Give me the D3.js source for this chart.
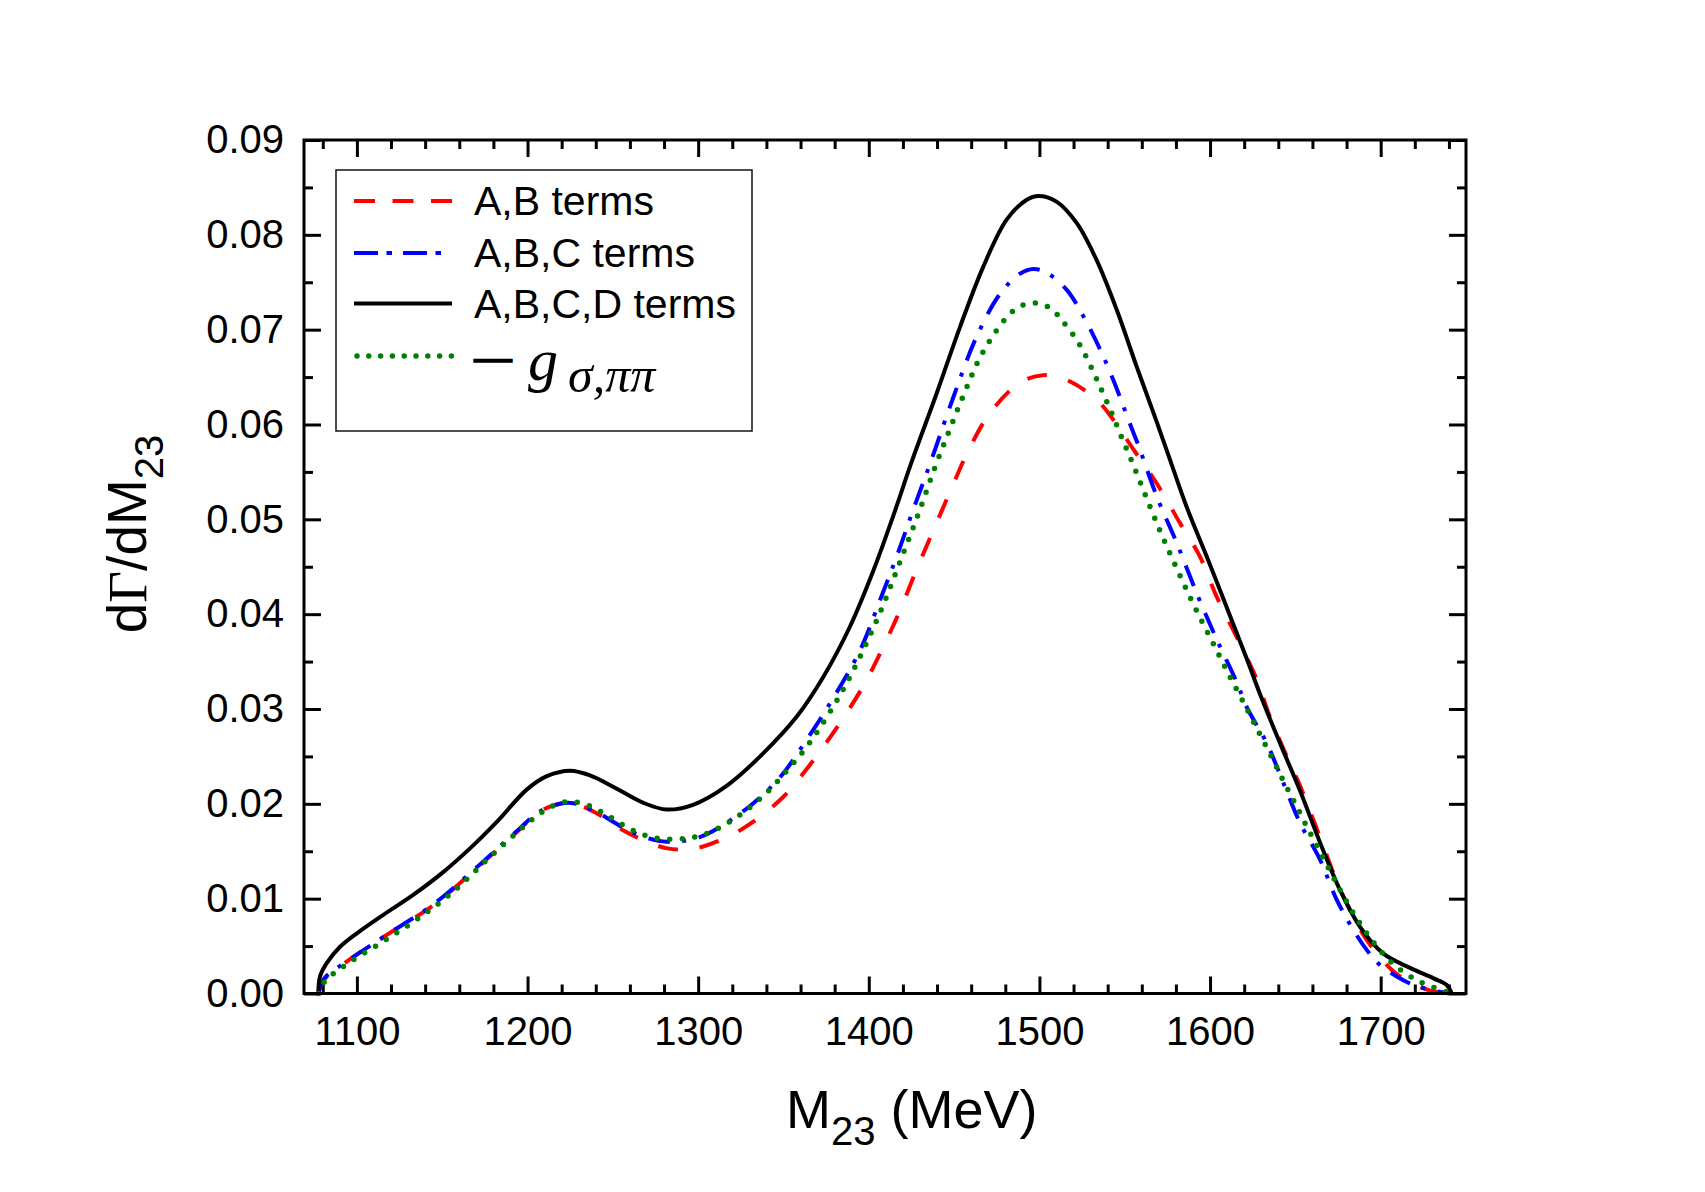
<!DOCTYPE html>
<html>
<head>
<meta charset="utf-8">
<script src="https://cdn.jsdelivr.net/npm/d3@7"></script>
<style>
  html, body { margin: 0; padding: 0; background: #fff; }
  svg { display: block; }
</style>
</head>
<body>
<svg id="chart" width="1705" height="1192"></svg>
<script>
// ---------------- DATA ----------------
const xTicks = [1100, 1200, 1300, 1400, 1500, 1600, 1700];
const yTicks = [0, 0.01, 0.02, 0.03, 0.04, 0.05, 0.06, 0.07, 0.08, 0.09];
const seriesNames = ["A,B terms", "A,B,C terms", "A,B,C,D terms"];

// A,B terms (red dashed)
const mAB = [1077.4,1081,1095,1119.4,1144.8,1170.2,1191.7,1209.3,1225,1238.6,1257,1270,1282,1293,1303,1324.5,1348,1365,1383,1397,1408.6,1418.3,1428,1438,1447.6,1458,1471,1488.6,1502.3,1516,1533.6,1543.3,1555,1568.7,1582.4,1594,1604,1615.6,1627.4,1635,1645,1653,1665,1676,1692,1709,1719,1729,1741];
const vAB = [0,0.0015,0.0035,0.0064,0.0093,0.0132,0.0167,0.0194,0.0201,0.0192,0.0171,0.0160,0.0153,0.0152,0.0155,0.0172,0.0204,0.0240,0.0285,0.0325,0.0366,0.0404,0.0447,0.0489,0.0529,0.0571,0.0612,0.0644,0.0652,0.0647,0.0626,0.0605,0.0574,0.0538,0.0496,0.0461,0.0418,0.0376,0.0331,0.0292,0.0250,0.0218,0.0162,0.0111,0.0056,0.0021,0.0011,0.0003,0];

// A,B,C terms (blue dash-dot)
const mABC = [1077.4,1081,1095,1119.4,1144.8,1170.2,1191.7,1209.3,1225,1238.6,1257,1270,1281.6,1301,1328.5,1348,1360,1377.3,1394.9,1406.6,1416.4,1426,1436,1449.6,1463.3,1477,1488.6,1496.5,1504.3,1516,1525.8,1535.6,1543.3,1553,1558,1568.8,1580.5,1592.2,1604,1615.7,1621.5,1633.2,1643,1652.7,1664.5,1674.2,1684,1691.8,1699.6,1709.4,1719.2,1729,1740];
const vABC = [0,0.0016,0.0035,0.0064,0.0094,0.0133,0.0168,0.0194,0.0201,0.0193,0.0174,0.0164,0.0160,0.0165,0.0195,0.0228,0.0258,0.0306,0.0362,0.0415,0.0461,0.0510,0.0559,0.0629,0.0693,0.0738,0.0759,0.0764,0.0760,0.0742,0.0714,0.0679,0.0647,0.0601,0.0578,0.0524,0.0475,0.0422,0.0373,0.0328,0.0302,0.0264,0.0222,0.0180,0.0141,0.0099,0.0067,0.0046,0.0030,0.0018,0.0009,0.0004,0];

// A,B,C,D terms (black solid)
const mABCD = [1077.4,1078.4,1082.3,1090,1100,1115.5,1133,1150.6,1166.3,1182,1199.5,1211,1225,1236.6,1252.3,1268,1281.6,1297,1316.7,1336.3,1357.8,1373.4,1389,1402.7,1414.4,1425,1439.8,1453.5,1467,1480.8,1492.6,1499.4,1510,1522,1533.6,1545.3,1557,1568.7,1576.5,1586.3,1598,1609.8,1621.5,1630.3,1641,1652.7,1664.5,1676.2,1688,1701.6,1717.2,1731,1738.7,1741.6];
const vABCD = [0,0.0018,0.0032,0.0049,0.00635,0.0083,0.0104,0.0128,0.0153,0.0181,0.0215,0.0229,0.0235,0.0230,0.0216,0.0201,0.0194,0.0199,0.0219,0.0250,0.0292,0.0334,0.0387,0.0446,0.0504,0.0560,0.0633,0.0703,0.0766,0.0816,0.0837,0.0841,0.0835,0.0812,0.0773,0.0721,0.0661,0.0603,0.0563,0.0513,0.0461,0.0407,0.0353,0.0311,0.0264,0.0214,0.0159,0.0109,0.0070,0.0042,0.0027,0.0016,0.0009,0];

// -g_{sigma,pipi} (green dotted)
const mG = [1077.4,1081.3,1095,1115.5,1135,1155.6,1175.1,1194.6,1208.3,1221.6,1234.7,1248.4,1261.6,1275.3,1288.8,1302.1,1315.7,1329.4,1342.5,1354.4,1365.2,1382.6,1396.4,1408.5,1419.1,1429.3,1439,1446.6,1452.1,1457.6,1463.6,1471.1,1480.8,1487.1,1493.9,1500.9,1507.6,1513.6,1523,1530.2,1536.5,1542.4,1547.8,1553.5,1564.2,1572.8,1581.8,1591.2,1601.6,1611.7,1622.5,1629.3,1636.2,1643,1650,1656.7,1664,1670.9,1678.1,1686,1695.3,1707.4,1721.1,1734.8,1741];
const vG = [0,0.0013,0.0032,0.0055,0.0078,0.0106,0.0139,0.0171,0.0191,0.0202,0.0199,0.0186,0.0172,0.0164,0.0163,0.0167,0.0178,0.0195,0.0216,0.0240,0.0264,0.0313,0.0361,0.0410,0.0459,0.0507,0.0556,0.0591,0.0616,0.0640,0.0665,0.0689,0.0713,0.0723,0.0728,0.0727,0.0721,0.0709,0.0686,0.0661,0.0636,0.0612,0.0588,0.0564,0.0516,0.0479,0.0443,0.0407,0.0370,0.0334,0.0297,0.0273,0.0249,0.0224,0.0200,0.0176,0.0151,0.0127,0.0103,0.0079,0.0055,0.0031,0.0014,0.0004,0];

// ---------------- CHART ----------------
const svg = d3.select("#chart");
svg.append("rect").attr("width", 1705).attr("height", 1192).attr("fill", "#fff");

const L = 304, R = 1466, T = 140, B = 993.5;
const x = d3.scaleLinear().domain([1069, 1750]).range([L, R]);
const y = d3.scaleLinear().domain([0, 0.09]).range([B, T]);

const FONT = "'Liberation Sans', Arial, Helvetica, sans-serif";
const SERIF = "'Liberation Serif', 'Times New Roman', serif";

const xMinor = d3.range(1080, 1750, 20).filter(v => v % 100 !== 0);
const yMinor = d3.range(0.005, 0.09, 0.01);

function styleAxis(g) {
  g.select(".domain").remove();
  g.selectAll(".tick line").attr("stroke", "#000").attr("stroke-width", 3);
  g.selectAll(".tick text").attr("font-family", FONT).attr("font-size", 40).attr("fill", "#000");
}

// bottom
svg.append("g").attr("transform", `translate(0,${B})`)
  .call(d3.axisBottom(x).tickValues(xTicks).tickSize(-17).tickPadding(23).tickFormat(d3.format("d")))
  .call(styleAxis);
svg.append("g").attr("transform", `translate(0,${B})`)
  .call(d3.axisBottom(x).tickValues(xMinor).tickSize(-9).tickFormat(""))
  .call(styleAxis);
// top
svg.append("g").attr("transform", `translate(0,${T})`)
  .call(d3.axisTop(x).tickValues(xTicks).tickSize(-17).tickFormat(""))
  .call(styleAxis);
svg.append("g").attr("transform", `translate(0,${T})`)
  .call(d3.axisTop(x).tickValues(xMinor).tickSize(-9).tickFormat(""))
  .call(styleAxis);
// left
svg.append("g").attr("transform", `translate(${L},0)`)
  .call(d3.axisLeft(y).tickValues(yTicks).tickSize(-17).tickPadding(20).tickFormat(d3.format(".2f")))
  .call(styleAxis);
svg.append("g").attr("transform", `translate(${L},0)`)
  .call(d3.axisLeft(y).tickValues(yMinor).tickSize(-9).tickFormat(""))
  .call(styleAxis);
// right
svg.append("g").attr("transform", `translate(${R},0)`)
  .call(d3.axisRight(y).tickValues(yTicks).tickSize(-17).tickFormat(""))
  .call(styleAxis);
svg.append("g").attr("transform", `translate(${R},0)`)
  .call(d3.axisRight(y).tickValues(yMinor).tickSize(-9).tickFormat(""))
  .call(styleAxis);

// curves
const line = d3.line().x(d => x(d[0])).y(d => y(d[1])).curve(d3.curveCatmullRom.alpha(0.5));
const zip = (a, b) => a.map((m, i) => [m, b[i]]);

const series = [
  { data: zip(mAB, vAB),   color: "#ff0000", width: 4,   dash: "20,22", cap: "butt" },
  { data: zip(mABC, vABC), color: "#0000ff", width: 4,   dash: "22,12,4,13", cap: "butt" },
  { data: zip(mABCD, vABCD), color: "#000000", width: 4, dash: null, cap: "butt" },
  { data: zip(mG, vG),     color: "#008000", width: 5.5, dash: "0,12.6", cap: "round" }
];
series.forEach(s => {
  svg.append("path").datum(s.data)
    .attr("d", line)
    .attr("fill", "none")
    .attr("stroke", s.color)
    .attr("stroke-width", s.width)
    .attr("stroke-linecap", s.cap)
    .attr("stroke-linejoin", "round")
    .attr("stroke-dasharray", s.dash);
});

// frame
svg.append("rect").attr("x", L).attr("y", T).attr("width", R - L).attr("height", B - T)
  .attr("fill", "none").attr("stroke", "#000").attr("stroke-width", 3);

// legend
const leg = svg.append("g");
leg.append("rect").attr("x", 336).attr("y", 170).attr("width", 416).attr("height", 261)
  .attr("fill", "#fff").attr("stroke", "#222").attr("stroke-width", 1.6);
const rows = [201, 253, 303.5, 356];
const legStyles = [
  { color: "#ff0000", width: 4, dash: "21,17.5", cap: "butt" },
  { color: "#0000ff", width: 4, dash: "24,8.5,5.5,11", cap: "butt" },
  { color: "#000000", width: 4, dash: null, cap: "butt" },
  { color: "#008000", width: 5.5, dash: "0,11.8", cap: "round" }
];
legStyles.forEach((s, i) => {
  leg.append("line").attr("x1", s.cap === "round" ? 357 : 354).attr("x2", 452)
    .attr("y1", rows[i]).attr("y2", rows[i])
    .attr("stroke", s.color).attr("stroke-width", s.width)
    .attr("stroke-linecap", s.cap).attr("stroke-dasharray", s.dash);
});
seriesNames.forEach((t, i) => {
  leg.append("text").attr("x", 474).attr("y", rows[i] + 14)
    .attr("font-family", FONT).attr("font-size", 41).attr("fill", "#000").text(t);
});
// − g_{σ,ππ}
leg.append("text").attr("x", 474).attr("y", 371)
  .attr("font-family", FONT).attr("font-size", 38).attr("fill", "#000")
  .attr("stroke", "#000").attr("stroke-width", 1.4).text("\u2014");
leg.append("text").attr("x", 528).attr("y", 380)
  .attr("font-family", SERIF).attr("font-style", "italic").attr("font-size", 60).attr("fill", "#000").text("g");
leg.append("text").attr("x", 568).attr("y", 392)
  .attr("font-family", SERIF).attr("font-style", "italic").attr("font-size", 50).attr("fill", "#000").text("\u03C3,\u03C0\u03C0");

// axis titles
const xt = svg.append("text").attr("x", 786).attr("y", 1128)
  .attr("font-family", FONT).attr("font-size", 54).attr("fill", "#000");
xt.append("tspan").text("M");
xt.append("tspan").attr("font-size", 40).attr("dy", 17).text("23");
xt.append("tspan").attr("dy", -17).text(" (MeV)");

const yt = svg.append("text").attr("transform", "translate(146,534) rotate(-90)")
  .attr("text-anchor", "middle")
  .attr("font-family", FONT).attr("font-size", 55).attr("fill", "#000");
yt.append("tspan").text("d");
yt.append("tspan").attr("font-family", SERIF).text("\u0393");
yt.append("tspan").text("/dM");
yt.append("tspan").attr("font-size", 40).attr("dy", 17).text("23");
</script>
</body>
</html>
